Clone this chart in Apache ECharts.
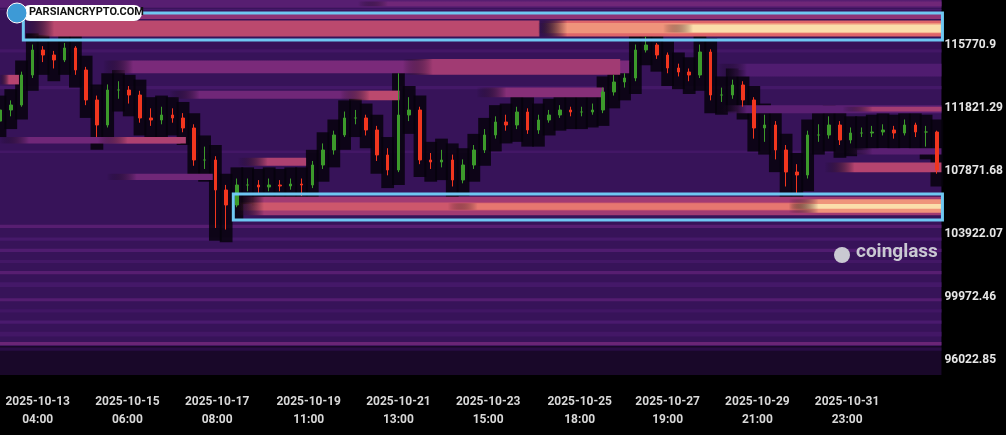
<!DOCTYPE html>
<html><head><meta charset="utf-8">
<script src="https://cdn.jsdelivr.net/npm/echarts@6/dist/echarts.min.js"></script>
<style>html,body{margin:0;padding:0;background:#000;}#c{width:1006px;height:435px;}</style>
</head><body><div id="c"></div>
<script>
// ---- data ----
const startTime = Date.UTC(2025, 9, 12, 7, 0); // first hourly category
const hourCount = 525;
const candleStep = 6; // hours between candles
const closes = [111696,112010,113890,115458,115144,114831,115583,114204,112323,110755,
112950,112950,112636,111195,111069,111383,111195,110568,108562,108562,
106681,105740,106994,106994,106869,106994,106931,107057,106994,108248,
109188,110129,111195,111195,110442,108875,107934,111383,111696,108562,
108436,108562,107308,108248,109188,110129,110944,110755,111571,110442,
111069,111383,111696,111571,111571,111696,112825,113451,113702,115458,
115771,115144,114329,114078,113890,115332,112636,112636,113263,112323,
110568,110755,109188,107809,107620,110129,110129,110755,109815,110254,
110254,110317,110442,110254,110755,110317,110317,107934];
const firstOpen = 111000;
const highs = [111900,112300,114100,115800,115700,115400,115900,115700,114400,112600,
113300,113500,113200,112900,111800,111900,111800,111500,110800,109400,
108800,107000,107400,107400,107300,107400,107300,107400,107400,108500,
109600,110400,111600,111700,111400,110700,109300,114000,112500,111900,
109000,109200,108900,108600,109500,110500,111300,111400,111900,111800,
111400,111700,112000,111900,111900,112100,113100,113900,114000,115800,
116300,115900,115300,114600,114300,115800,115500,113100,113600,113500,
112500,111400,111000,109500,108300,110400,110800,111300,111000,110600,
110600,110700,110800,110700,111100,110900,110700,110400];
const lows = [110800,111300,111900,113700,114700,114300,114700,113900,112000,110000,
110600,112400,112100,110900,110700,110800,110900,110300,108200,108000,
104300,104200,105600,106600,106500,106600,106600,106700,106300,106800,
108000,108900,110000,110800,110100,108500,107600,107800,111000,108300,
108000,108100,106900,107100,108000,109000,109900,110400,110500,110200,
110200,110900,111200,111300,111300,111400,111500,112600,113100,113500,
115300,114900,114000,113800,113500,113700,112300,112200,112400,111900,
109900,109700,108600,106900,106400,107400,109700,109900,109500,109600,
110000,110000,110100,109900,110100,110000,109400,107700];
// liquidation bands: [startHour, endHour, lowPrice, highPrice, intensity]
const baseBands = [
[0,524,96900,118592,0.2],[0,524,95083,96900,0.03],
[0,524,118100,118592,0.34],[0,524,117950,118050,0.28],[0,524,115300,115500,0.26],
[0,524,113000,113200,0.27],[0,524,109000,109150,0.26],[0,524,104300,104500,0.34],
[0,524,103500,103700,0.28],[0,524,102800,103000,0.32],[0,524,102100,102300,0.26],
[0,524,101400,101600,0.34],[0,524,100600,100900,0.27],[0,524,99700,99900,0.33],
[0,524,99000,99200,0.25],[0,524,98300,98500,0.3],[0,524,97500,97800,0.26],
[0,524,96950,97150,0.4],[0,524,96600,96800,0.12]
];
const hotBands = [
[14,524,117400,117780,0.5],[14,300,116300,117300,0.62],[300,524,116300,117300,0.74],
[300,524,116500,117150,0.84],[370,524,116550,117050,0.97],
[200,524,118200,118500,0.42],
[0,10,113300,113900,0.6],[58,350,114000,114800,0.45],[95,222,112400,112900,0.42],
[190,222,112300,112900,0.62],[225,345,113900,114900,0.55],[266,336,112500,113100,0.48],
[0,100,109600,110000,0.42],[55,103,109600,110000,0.58],[133,170,108200,108700,0.58],
[60,118,107300,107700,0.42],[400,524,111500,112000,0.35],[470,524,111600,111900,0.56],
[460,524,107800,108400,0.6],[470,524,108900,109300,0.35],[400,524,113800,114600,0.32],
[131,524,105100,106250,0.55],[131,524,105400,105900,0.68],[250,524,105450,105850,0.78],
[440,524,105250,106100,0.84],[440,524,105500,105800,0.97]
];
const sweepAbove = 700, sweepBelow = 800;
const xTickHours = [21,71,121,172,222,272,323,372,422,472];
const yTicks = [96022.85,99972.46,103922.07,107871.68,111821.29,115770.9];
const boxes = [[13,524,116084,117777],[130,524,104800,106430]];

// ---- build ----
const pad = n => String(n).padStart(2,'0');
const cats = [];
for (let h = 0; h < hourCount; h++) {
  const d = new Date(startTime + h*3600000);
  cats.push(d.getUTCFullYear()+'-'+pad(d.getUTCMonth()+1)+'-'+pad(d.getUTCDate())+'\n'+pad(d.getUTCHours())+':00');
}
const candles = closes.map((c,i)=>[i*candleStep, i===0?firstOpen:closes[i-1], c, lows[i], highs[i]]);
const sweeps = candles.map(k=>[k[0]-3, k[0]+3, k[3]-sweepBelow, k[4]+sweepAbove]);

const stops = [[0,[20,6,31]],[0.15,[46,15,79]],[0.3,[74,26,110]],[0.45,[122,42,122]],
[0.6,[181,68,111]],[0.75,[226,104,106]],[0.88,[245,168,130]],[1,[253,240,184]]];
function col(t){
  for (let i=1;i<stops.length;i++){ if (t<=stops[i][0]){const a=stops[i-1],b=stops[i],f=(t-a[0])/(b[0]-a[0]);
    return 'rgb('+a[1].map((v,j)=>Math.round(v+(b[1][j]-v)*f)).join(',')+')';}}
  return 'rgb(253,240,184)';
}
function rectItem(fill, soft){
  return function(params, api){
    const p1 = api.coord([api.value(0), api.value(3)]);
    const p2 = api.coord([api.value(1), api.value(2)]);
    const x = Math.min(p1[0],p2[0])-1, w = Math.max(1, Math.abs(p2[0]-p1[0]) + 2);
    const h = Math.max(1,p2[1]-p1[1]);
    let f = fill || col(api.value(4));
    if (soft) {
      f = new echarts.graphic.LinearGradient(0,0,1,0,[{offset:0,color:'rgba(0,0,0,0)'},{offset:Math.min(0.5,30/w),color:f},{offset:1,color:f}]);
    }
    return {type:'rect', shape:{x:x, y:p1[1], width:w, height:h}, style:{fill:f}};
  };
}
function boxItem(params, api){
  const p1 = api.coord([api.value(0), api.value(3)]);
  const p2 = api.coord([api.value(1), api.value(2)]);
  return {type:'rect', shape:{x:p1[0], y:p1[1], width:p2[0]-p1[0]+2, height:p2[1]-p1[1]},
    style:{fill:'none', stroke:'#6fc8f2', lineWidth:3}};
}
const chart = echarts.init(document.getElementById('c'));
chart.setOption({
  backgroundColor:'#000',
  animation:false,
  grid:{left:0,right:61,top:0,bottom:60},
  xAxis:{type:'category',data:cats,boundaryGap:false,
    axisLine:{show:false},axisTick:{show:false},splitLine:{show:false},
    axisLabel:{customValues:xTickHours,color:'#d8d8d8',fontSize:12,fontWeight:'bold',fontFamily:'Roboto',lineHeight:18,margin:18}},
  yAxis:{type:'value',position:'right',min:95083,max:118592,
    axisLine:{show:false},axisTick:{show:false},splitLine:{show:false},
    axisLabel:{customValues:yTicks,color:'#e6e6e6',fontSize:12,fontWeight:'bold',fontFamily:'Roboto',margin:4,
      formatter:v=>String(v)}},
  series:[
    {type:'custom',data:baseBands,renderItem:rectItem(),encode:{x:[0,1],y:[2,3]},z:1,silent:true},
    {type:'custom',data:sweeps,renderItem:rectItem('rgba(6,2,12,0.85)'),encode:{x:[0,1],y:[2,3]},z:2,silent:true},
    {type:'custom',data:hotBands,renderItem:rectItem(null,true),encode:{x:[0,1],y:[2,3]},z:3,silent:true},
    {type:'candlestick',data:candles,encode:{x:0,y:[1,2,3,4]},barWidth:3,z:5,
      itemStyle:{color:'#3c9a2b',color0:'#f1361e',borderColor:'#3c9a2b',borderColor0:'#f1361e',borderWidth:1}},
    {type:'custom',data:boxes,renderItem:boxItem,encode:{x:[0,1],y:[2,3]},z:6,silent:true}
  ],
  graphic:[
    {type:'rect',left:22,top:5,shape:{width:120,height:16,r:8},style:{fill:'#fff'},z:10},
    {type:'circle',shape:{cx:17,cy:13,r:10},style:{fill:'#3d9ad6',stroke:'#fff',lineWidth:1},z:11},
    {type:'text',left:29,top:7,style:{text:'PARSIANCRYPTO.COM',fill:'#111',font:'bold 11px Roboto'},z:11},
    {type:'circle',shape:{cx:842,cy:255,r:8},style:{fill:'#c9c9d2'},z:10},
    {type:'text',left:856,top:243,style:{text:'coinglass',fill:'#c9c9d2',font:'bold 19px Roboto'},z:10}
  ]
});
</script></body></html>
